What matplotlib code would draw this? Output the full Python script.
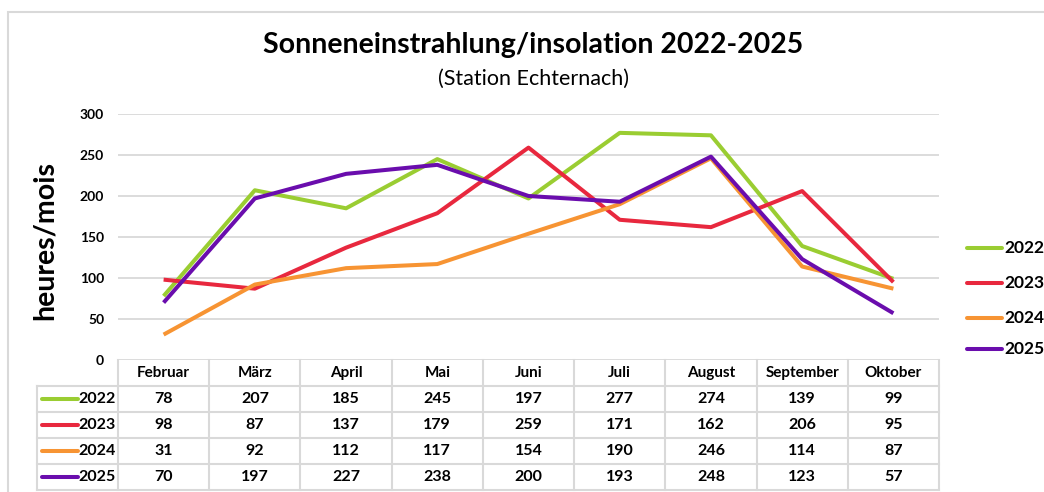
import numpy as np
import matplotlib.pyplot as plt
from matplotlib.patches import Rectangle

plt.rcParams['font.family'] = ['Lato', 'DejaVu Sans']

# Daten
monate = ["Februar", "März", "April", "Mai", "Juni", "Juli", "August", "September", "Oktober"]
jahre = ["2022", "2023", "2024", "2025"]
werte_2022 = [78, 207, 185, 245, 197, 277, 274, 139, 99]
werte_2023 = [98, 87, 137, 179, 259, 171, 162, 206, 95]
werte_2024 = [31, 92, 112, 117, 154, 190, 246, 114, 87]
werte_2025 = [70, 197, 227, 238, 200, 193, 248, 123, 57]
farben = ["#9ACD32", "#E8283E", "#F79433", "#6A0DAD"]
yticks = [0, 50, 100, 150, 200, 250, 300]

serien = [werte_2022, werte_2023, werte_2024, werte_2025]

W, H = 1044, 492
fig = plt.figure(figsize=(W / 100, H / 100), dpi=100)
grau = "#D9D9D9"

# Rahmen
fig.patches.append(Rectangle((7.5 / W, -0.1), 1.2, 1 - 12 / H + 0.1, transform=fig.transFigure,
                             fill=False, edgecolor=grau, lw=1.5))

# Diagramm
x_links, x_rechts = 118, 939
y_null, y_300 = 360, 114
ax = fig.add_axes([x_links / W, 1 - y_null / H, (x_rechts - x_links) / W, (y_null - y_300) / H])
x = np.arange(len(monate))
for werte, farbe, jahr in zip(serien, farben, jahre):
    ax.plot(x, werte, color=farbe, lw=2.9, label=jahr, solid_capstyle='butt', zorder=3)
ax.set_xlim(-0.5, len(monate) - 0.5)
ax.set_ylim(0, 300)
ax.set_yticks(yticks)
ax.set_xticks([])
for s in ax.spines.values():
    s.set_visible(False)
ax.grid(axis='y', color=grau, lw=1.3)
ax.set_axisbelow(True)
ax.tick_params(axis='y', length=0, pad=10, labelsize=10)
for t in ax.get_yticklabels():
    t.set_fontweight('bold')

fig.text(45 / W, 1 - 241 / H, "heures/mois", rotation=90, ha='center', va='center',
         fontsize=20.5, fontweight='bold')
fig.text(533 / W, 1 - 45 / H, "Sonneneinstrahlung/insolation 2022-2025", ha='center', va='center',
         fontsize=20.5, fontweight='bold')
fig.text(533 / W, 1 - 79 / H, "(Station Echternach)", ha='center', va='center', fontsize=15.5)

# Legende (manuell, wie in Excel)
leg_y = [248, 283, 318, 349]
for farbe, jahr, yy in zip(farben, jahre, leg_y):
    fig.add_artist(plt.Line2D([967 / W, 1002 / W], [1 - yy / H, 1 - yy / H], color=farbe, lw=2.9,
                              solid_capstyle='round', transform=fig.transFigure))
    fig.text(1004 / W, 1 - yy / H, jahr, ha='left', va='center', fontsize=12.5, fontweight='bold')

# Datentabelle
zeile = 26
tab_top = y_null
spalte = (x_rechts - x_links) / len(monate)
x_label = 37
tx = fig.add_axes([x_label / W, 1 - (tab_top + 5 * zeile) / H, (x_rechts - x_label) / W, 5 * zeile / H])
tx.set_xlim(-0.5 - (x_links - x_label) / spalte, len(monate) - 0.5)
tx.set_ylim(5, 0)
tx.axis('off')
xl = -0.5 - (x_links - x_label) / spalte
for k in range(len(monate) + 1):
    tx.plot([k - 0.5, k - 0.5], [0, 5], color=grau, lw=1.5, clip_on=False)
tx.plot([xl, xl], [1, 5], color=grau, lw=1.5, clip_on=False)
for r in range(1, 6):
    tx.plot([xl, len(monate) - 0.5], [r, r], color=grau, lw=1.5, clip_on=False)
for i, m in enumerate(monate):
    tx.text(i, 0.5, m, ha='center', va='center', fontsize=11, fontweight='bold')
for r, (werte, farbe, jahr) in enumerate(zip(serien, farben, jahre)):
    yy = r + 1.5
    tx.plot([xl + 0.05, xl + 0.45], [yy, yy], color=farbe, lw=2.9, solid_capstyle='round')
    tx.text(-0.53, yy, jahr, ha='right', va='center', fontsize=11.5, fontweight='bold')
    for i, v in enumerate(werte):
        tx.text(i, yy, str(v), ha='center', va='center', fontsize=11.5, fontweight='bold')

fig.savefig("out.png", dpi=100)
